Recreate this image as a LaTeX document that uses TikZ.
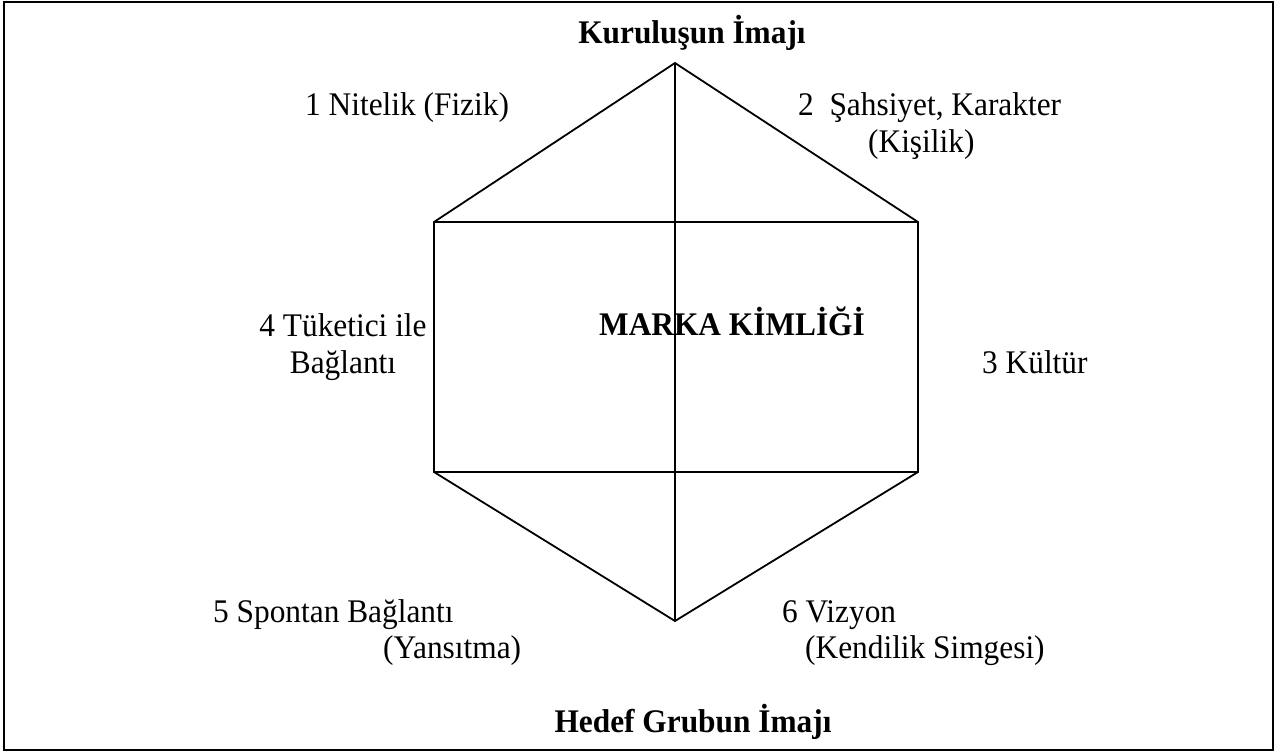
\documentclass[tikz,border=0pt]{standalone}
\usepackage{fontspec}
\setmainfont{Liberation Serif}[FakeStretch=0.95]
\usepackage{tikz}
\usetikzlibrary{positioning}

\begin{document}
\begin{tikzpicture}[x=1pt, y=-1pt,
  edge/.style={line width=1.8pt, line join=miter},
  lbl/.style={inner sep=0pt, anchor=base west, font=\fontsize{33}{37}\selectfont},
  ttl/.style={inner sep=0pt, anchor=base, font=\fontsize{33}{37}\selectfont\bfseries}]
\useasboundingbox (0,0) rectangle (1278,753);
% frame
\draw[line width=1.8pt] (4,2) rectangle (1273,750);
% hexagon corners
\coordinate (top) at (675,63);
\coordinate (ul) at (434,222);
\coordinate (ur) at (918,222);
\coordinate (ll) at (434,472);
\coordinate (lr) at (918,472);
\coordinate (bot) at (675,621);
\draw[edge] (top) -- (ur) -- (lr) -- (bot) -- (ll) -- (ul) -- cycle;
\draw[edge] (top) -- (bot);
\draw[edge] (ul) -- (ur);
\draw[edge] (ll) -- (lr);
% titles
\node[ttl] (orgimg) at (692,43) {Kuruluşun İmajı};
\node[ttl] (grpimg) at (693,732) {Hedef Grubun İmajı};
\node[lbl, font=\fontsize{33}{37}\selectfont\bfseries] (brand) at (599,335) {MARKA KİMLİĞİ};
% facets
\node[lbl] (phys) at (305,115) {1 Nitelik (Fizik)};
\node[lbl] (pers) at (798,115) {2\ \ Şahsiyet, Karakter};
\node[lbl] (persb) at (868,152) {(Kişilik)};
\node[lbl] (cult) at (982,373) {3 Kültür};
\node[inner sep=0pt, anchor=base, align=center, font=\fontsize{33}{37}\selectfont] (rel) at (343,373) {4 Tüketici ile\\Bağlantı};
\node[lbl] (refl) at (213,622) {5 Spontan Bağlantı};
\node[lbl] (reflb) at (383,658) {(Yansıtma)};
\node[lbl] (vis) at (782,622) {6 Vizyon};
\node[lbl] (visb) at (805,658) {(Kendilik Simgesi)};
\end{tikzpicture}
\end{document}
